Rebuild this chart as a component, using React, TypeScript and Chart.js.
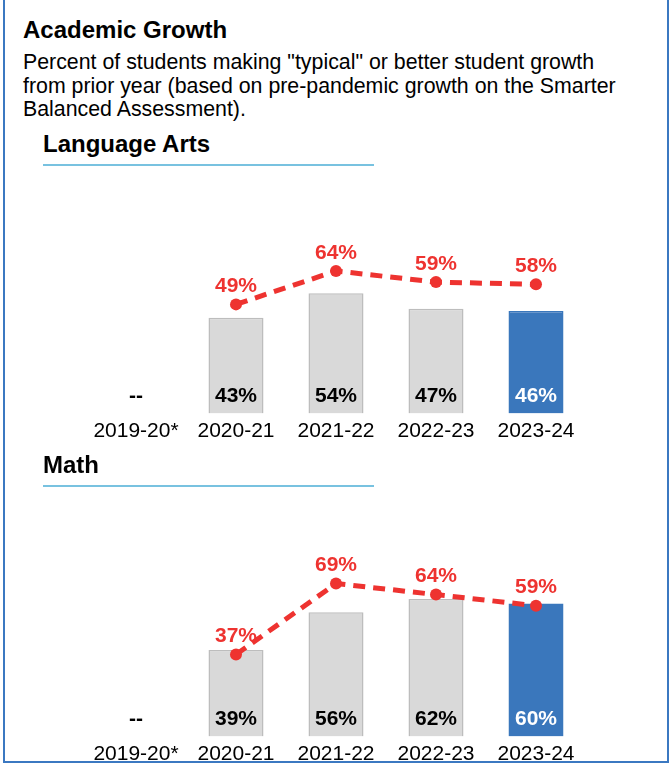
import React, { useEffect, useRef } from "react";
import { Chart, registerables } from "chart.js";

Chart.register(...registerables);

const categories = ["2019-20*", "2020-21", "2021-22", "2022-23", "2023-24"];
const elaBars: (number | null)[] = [null, 43, 54, 47, 46];
const elaLine: (number | null)[] = [null, 49, 64, 59, 58];
const mathBars: (number | null)[] = [null, 39, 56, 62, 60];
const mathLine: (number | null)[] = [null, 37, 69, 64, 59];

const FONT = "'Liberation Sans', Arial, sans-serif";
const RED = "#ee3330";
const GRAY = "#d9d9d9";
const GRAY_BORDER = "#bdbdbd";
const BLUE = "#3a77bc";

const labelPlugin = {
  id: "valueLabels",
  afterDatasetsDraw(chart: any) {
    const ctx = chart.ctx;
    const yScale = chart.scales.y;
    const xScale = chart.scales.x;
    ctx.save();
    ctx.font = `bold 21px ${FONT}`;
    ctx.textAlign = "center";
    ctx.textBaseline = "middle";
    chart.data.datasets.forEach((ds: any, di: number) => {
      const meta = chart.getDatasetMeta(di);
      meta.data.forEach((el: any, i: number) => {
        const v = ds.data[i];
        if (ds.type === "bar") {
          const last = i === ds.data.length - 1;
          const base = yScale.getPixelForValue(0);
          const x = v == null ? xScale.getPixelForValue(i) : el.x;
          ctx.fillStyle = last ? "#ffffff" : "#000000";
          ctx.fillText(v == null ? "--" : `${v}%`, x, base - 17);
        } else if (v != null) {
          ctx.fillStyle = RED;
          ctx.fillText(`${v}%`, el.x, el.y - 18);
        }
      });
    });
    ctx.restore();
  },
};

function GrowthChart(props: {
  top: number;
  height: number;
  padTop: number;
  padBottom: number;
  bars: (number | null)[];
  line: (number | null)[];
}) {
  const ref = useRef<HTMLCanvasElement | null>(null);
  useEffect(() => {
    if (!ref.current) return;
    const n = props.bars.length;
    const chart = new Chart(ref.current, {
      data: {
        labels: categories,
        datasets: [
          {
            type: "line",
            data: props.line,
            order: 0,
            borderColor: RED,
            backgroundColor: RED,
            borderWidth: 5,
            borderDash: [12, 8],
            pointRadius: 6,
            pointBackgroundColor: RED,
            pointBorderColor: RED,
            pointBorderWidth: 0,
            tension: 0,
            spanGaps: false,
          } as any,
          {
            type: "bar",
            data: props.bars,
            order: 1,
            backgroundColor: props.bars.map((_, i) => (i === n - 1 ? BLUE : GRAY)),
            borderColor: props.bars.map((_, i) => (i === n - 1 ? BLUE : GRAY_BORDER)),
            borderWidth: 1.5,
            categoryPercentage: 1,
            barPercentage: 0.55,
          } as any,
        ],
      },
      options: {
        animation: false,
        responsive: false,
        maintainAspectRatio: false,
        events: [],
        layout: {
          padding: { left: 86, right: 84, top: props.padTop, bottom: props.padBottom },
        },
        plugins: {
          legend: { display: false },
          tooltip: { enabled: false },
          title: { display: false },
        },
        scales: {
          x: {
            offset: true,
            grid: { display: false, drawTicks: false },
            border: { display: false },
            ticks: {
              color: "#000000",
              padding: 5.5,
              maxRotation: 0,
              autoSkip: false,
              font: { family: FONT, size: 21, lineHeight: 1.2 },
            },
          },
          y: {
            display: false,
            min: 0,
            max: 100,
          },
        },
      },
      plugins: [labelPlugin],
    });
    return () => chart.destroy();
  }, []);
  return (
    <canvas
      ref={ref}
      width={670}
      height={props.height}
      style={{ position: "absolute", left: 0, top: props.top, width: 670, height: props.height }}
    />
  );
}

export default function App() {
  const heading = {
    position: "absolute" as const,
    fontFamily: FONT,
    fontWeight: 700,
    fontSize: 24,
    lineHeight: "28px",
    color: "#000",
    whiteSpace: "nowrap" as const,
    margin: 0,
  };
  return (
    <div
      style={{
        position: "absolute",
        left: 0,
        top: 0,
        width: 670,
        height: 767,
        overflow: "hidden",
        background: "#fff",
      }}
    >
      <div
        style={{
          position: "absolute",
          left: 3,
          top: -6,
          width: 666,
          height: 769,
          boxSizing: "border-box",
          border: "2px solid #3b78c1",
        }}
      />
      <div style={{ ...heading, left: 23, top: 16 }}>Academic Growth</div>
      <div
        style={{
          position: "absolute",
          left: 23,
          top: 51,
          fontFamily: FONT,
          fontSize: 21.33,
          lineHeight: "23.5px",
          color: "#000",
          whiteSpace: "nowrap",
        }}
      >
        Percent of students making "typical" or better student growth
        <br />
        from prior year (based on pre-pandemic growth on the Smarter
        <br />
        Balanced Assessment).
      </div>
      <div style={{ ...heading, left: 43, top: 130 }}>Language Arts</div>
      <div style={{ position: "absolute", left: 43, top: 164, width: 331, height: 2, background: "#78c2e0" }} />
      <GrowthChart top={182} height={270} padTop={8.8} padBottom={2.3} bars={elaBars} line={elaLine} />
      <div style={{ ...heading, left: 43, top: 451 }}>Math</div>
      <div style={{ position: "absolute", left: 43, top: 485, width: 331, height: 2, background: "#78c2e0" }} />
      <GrowthChart top={504} height={272} padTop={10.8} padBottom={3.3} bars={mathBars} line={mathLine} />
    </div>
  );
}
